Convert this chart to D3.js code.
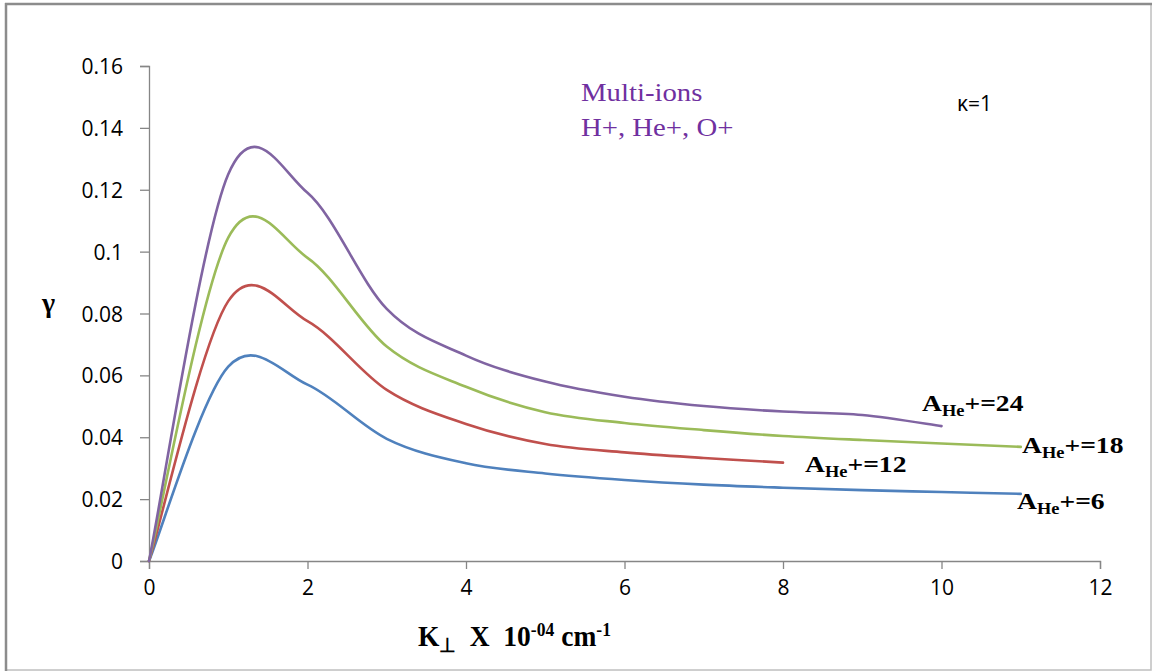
<!DOCTYPE html>
<html>
<head>
<meta charset="utf-8">
<script src="https://cdn.jsdelivr.net/npm/d3@7"></script>
<style>
  html, body { margin: 0; padding: 0; background: #fff; }
  svg { display: block; }
</style>
</head>
<body>
<svg id="chart" width="1154" height="672"></svg>
<script>
// ---- data ----
const kValues = [0, 1, 2, 3, 4, 5, 6, 7, 8, 9, 10, 11];
const gammaA6  = [0, 0.0628, 0.057, 0.0395, 0.0316, 0.0283, 0.0262, 0.0247, 0.0237, 0.0229, 0.0223, 0.0217];
const gammaA12 = [0, 0.084, 0.0775, 0.0553, 0.0443, 0.0378, 0.0351, 0.0333, 0.0318];
const gammaA18 = [0, 0.1045, 0.098, 0.0693, 0.0563, 0.0481, 0.0446, 0.0423, 0.0404, 0.0391, 0.0380, 0.0369];
const gammaA24 = [0, 0.125, 0.119, 0.0815, 0.0664, 0.0580, 0.0531, 0.0501, 0.0483, 0.0472, 0.0436];
const seriesNames = ["6", "12", "18", "24"];
const seriesColors = ["#4F81BD", "#C0504D", "#9BBB59", "#8064A2"];
const xTicks = [0, 2, 4, 6, 8, 10, 12];
const yTicks = [0, 0.02, 0.04, 0.06, 0.08, 0.1, 0.12, 0.14, 0.16];
const yTickLabels = ["0", "0.02", "0.04", "0.06", "0.08", "0.1", "0.12", "0.14", "0.16"];

const seriesData = [gammaA6, gammaA12, gammaA18, gammaA24];

// ---- layout ----
const svg = d3.select("#chart");
const x = d3.scaleLinear().domain([0, 12]).range([149, 1100]);
const y = d3.scaleLinear().domain([0, 0.16]).range([561, 66]);

// outer frame
svg.append("rect").attr("x", 6).attr("y", 4).attr("width", 1145).attr("height", 666)
  .attr("fill", "none").attr("stroke", "#bfbfbf").attr("stroke-width", 1.5);
svg.append("line").attr("x1", 6).attr("x2", 6).attr("y1", 3).attr("y2", 671)
  .attr("stroke", "#8c8c8c").attr("stroke-width", 2.5);
svg.append("line").attr("x1", 5).attr("x2", 1152).attr("y1", 4).attr("y2", 4)
  .attr("stroke", "#8c8c8c").attr("stroke-width", 2.5);

// Excel-style smoothing curve (Bezier with 1/6 neighbour tangents)
function ExcelSmooth(context) { this._context = context; }
ExcelSmooth.prototype = {
  areaStart() {}, areaEnd() {},
  lineStart() { this._pts = []; },
  point(px, py) { this._pts.push([+px, +py]); },
  lineEnd() {
    const p = this._pts, c = this._context, n = p.length;
    if (!n) return;
    c.moveTo(p[0][0], p[0][1]);
    for (let i = 0; i < n - 1; i++) {
      const p0 = p[Math.max(i - 1, 0)], p1 = p[i], p2 = p[i + 1], p3 = p[Math.min(i + 2, n - 1)];
      c.bezierCurveTo(
        p1[0] + (p2[0] - p0[0]) / 6, p1[1] + (p2[1] - p0[1]) / 6,
        p2[0] - (p3[0] - p1[0]) / 6, p2[1] - (p3[1] - p1[1]) / 6,
        p2[0], p2[1]);
    }
  }
};
const excelCurve = ctx => new ExcelSmooth(ctx);

// axes
const axisColor = "#868686";
const tickFont = "'Open Sans', 'Noto Sans', sans-serif";
const yAxis = svg.append("g").attr("transform", `translate(${x(0)},0)`)
  .call(d3.axisLeft(y).tickValues(yTicks).tickSize(9).tickPadding(17)
    .tickFormat((d, i) => yTickLabels[i]));
const xAxis = svg.append("g").attr("transform", `translate(0,${y(0)})`)
  .call(d3.axisBottom(x).tickValues(xTicks).tickSize(8).tickPadding(12)
    .tickFormat(d3.format("d")));
[yAxis, xAxis].forEach(g => {
  g.select(".domain").attr("stroke", axisColor).attr("stroke-width", 1.3);
  g.selectAll(".tick line").attr("stroke", axisColor).attr("stroke-width", 1.3);
  g.selectAll(".tick text").attr("fill", "#000")
    .style("font-family", tickFont).style("font-size", "21px");
});
yAxis.selectAll(".tick text").attr("dy", "0.36em");
xAxis.selectAll(".tick text").attr("dy", "0.66em");

// lines
const line = d3.line().x((d, i) => x(kValues[i])).y(d => y(d)).curve(excelCurve);
seriesData.forEach((vals, si) => {
  svg.append("path").datum(vals).attr("d", line)
    .attr("fill", "none").attr("stroke", seriesColors[si]).attr("stroke-width", 2.6)
    .attr("stroke-linejoin", "round").attr("stroke-linecap", "round");
});

// series labels A_He+=N
const labelPos = [
  {x: 1017, y: 509}, {x: 805, y: 472}, {x: 1022, y: 453}, {x: 922, y: 411}
];
seriesNames.forEach((nm, si) => {
  const t = svg.append("text")
    .attr("transform", `translate(${labelPos[si].x},${labelPos[si].y}) scale(1.15,1)`)
    .style("font-family", "'Liberation Serif', 'Times New Roman', serif")
    .style("font-weight", "bold").style("font-size", "24px").attr("fill", "#000");
  t.append("tspan").text("A");
  t.append("tspan").attr("dy", 5).style("font-size", "16px").text("He");
  t.append("tspan").attr("dy", -5).text("+=" + nm);
});

// annotations
const ann = svg.append("text")
  .attr("transform", "translate(581,101) scale(1.15,1)")
  .style("font-family", "'Liberation Serif', 'Times New Roman', serif")
  .style("font-size", "25px").attr("fill", "#7030A0");
ann.append("tspan").attr("x", 0).attr("y", 0).text("Multi-ions");
ann.append("tspan").attr("x", 0).attr("y", 35).text("H+, He+, O+");

svg.append("text").attr("x", 957).attr("y", 111)
  .style("font-family", tickFont).style("font-size", "21px")
  .attr("fill", "#000").text("κ=1");

// y title
svg.append("text").attr("x", 42).attr("y", 312)
  .style("font-family", "'Liberation Serif', 'Times New Roman', serif")
  .style("font-weight", "bold").style("font-size", "28px")
  .attr("fill", "#000").text("γ");

// x title
const xt = svg.append("text")
  .attr("transform", "translate(418,646) scale(1.1,1.15)")
  .style("font-family", "'Liberation Serif', 'Times New Roman', serif")
  .style("font-weight", "bold").style("font-size", "25px").attr("fill", "#000");
xt.append("tspan").text("K");
xt.append("tspan").attr("dy", 5).style("font-size", "17px").text("⊥");
xt.append("tspan").attr("dy", -5).text("\u00a0\u00a0X\u00a0\u00a010");
xt.append("tspan").attr("dy", -9).style("font-size", "16px").text("-04");
xt.append("tspan").attr("dy", 9).text("\u00a0cm");
xt.append("tspan").attr("dy", -9).style("font-size", "16px").text("-1");
</script>
</body>
</html>
